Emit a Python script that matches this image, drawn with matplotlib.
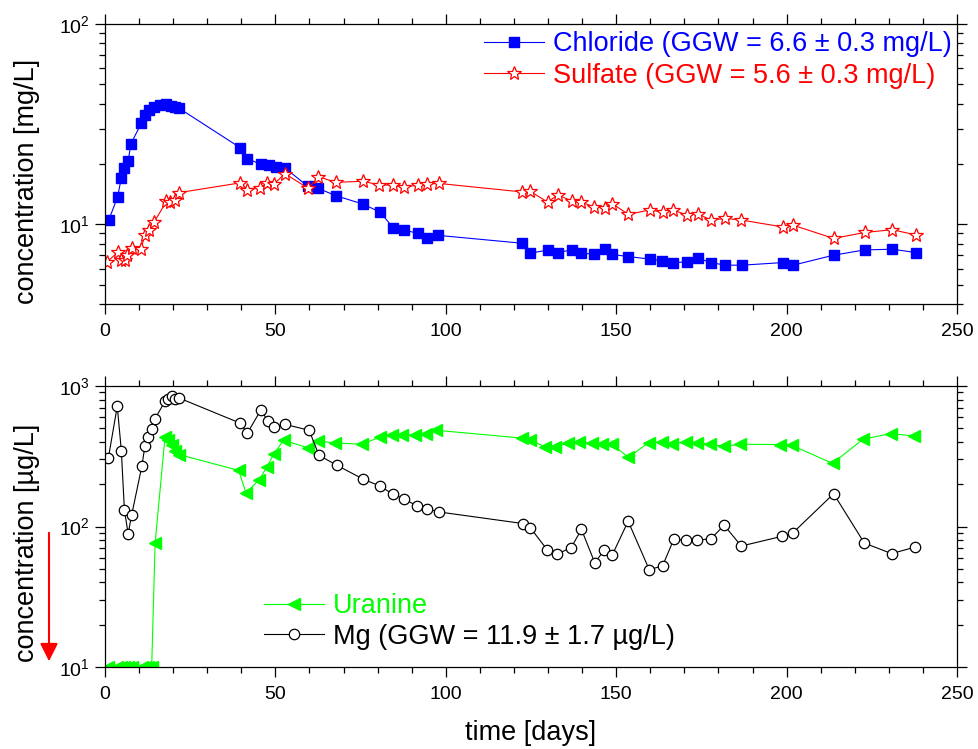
import numpy as np
import matplotlib
matplotlib.use('Agg')
import matplotlib.pyplot as plt
from matplotlib.ticker import LogLocator, NullFormatter, MultipleLocator

plt.rcParams['font.family'] = ['Liberation Sans', 'DejaVu Sans']
plt.rcParams['mathtext.fontset'] = 'custom'
plt.rcParams['mathtext.rm'] = 'Liberation Sans'

# ---- top panel: chloride / sulfate [mg/L]
cl_days = [1.1, 3.7, 4.8, 5.6, 6.8, 7.6, 10.7, 11.7, 13.0, 14.4, 16.1, 17.8, 19.3, 20.6, 21.8,
           39.7, 41.7, 45.8, 48.0, 50.1, 52.8, 59.5, 62.6, 67.7, 75.8, 80.7, 84.6, 87.6, 91.7,
           94.6, 97.6, 122.5, 124.8, 129.9, 132.8, 137.0, 139.7, 143.6, 146.8, 148.8, 153.6,
           160.0, 163.5, 166.8, 170.8, 173.9, 177.8, 182.0, 186.9, 198.9, 201.9, 213.8, 222.9,
           231.0, 237.9]
chloride = [10.5, 13.7, 17.1, 19.1, 20.7, 25.2, 32.1, 35.2, 37.1, 38.5, 39.5, 40.0, 39.1, 38.5, 37.9,
            24.1, 21.3, 19.9, 19.7, 19.4, 19.1, 15.5, 15.1, 13.9, 12.6, 11.5, 9.6, 9.37, 9.02,
            8.59, 8.81, 8.04, 7.18, 7.43, 7.23, 7.45, 7.18, 7.09, 7.51, 7.07, 6.9,
            6.7, 6.57, 6.44, 6.49, 6.78, 6.44, 6.25, 6.25, 6.44, 6.25, 7.01, 7.45,
            7.51, 7.23]

so4_days = [0.7, 3.9, 4.6, 5.9, 6.6, 7.8, 10.5, 11.7, 12.8, 14.5, 18.0, 19.2, 20.6, 21.8,
            39.7, 41.8, 45.6, 47.5, 49.6, 52.8, 59.7, 62.6, 67.7, 75.8, 80.5, 84.6, 87.6, 91.7,
            94.6, 97.9, 122.5, 124.8, 129.9, 132.8, 137.0, 139.7, 143.6, 146.8, 148.8, 153.6,
            159.8, 163.7, 166.7, 170.8, 173.9, 177.8, 182.0, 186.7, 198.9, 201.9, 213.8, 222.9,
            231.0, 237.9]
sulfate = [6.5, 7.3, 6.6, 6.6, 7.0, 7.6, 7.5, 8.8, 9.4, 10.3, 13.0, 12.9, 13.2, 14.4,
           16.1, 14.9, 15.2, 16.1, 15.9, 17.9, 15.1, 17.3, 16.2, 16.4, 15.7, 15.7, 15.3, 15.7,
           15.9, 16.0, 14.5, 14.6, 12.9, 14.0, 13.1, 12.9, 12.2, 12.1, 12.7, 11.2,
           11.8, 11.5, 11.8, 11.1, 11.3, 10.5, 10.7, 10.5, 9.7, 9.9, 8.5, 9.1,
           9.4, 8.85]

# ---- bottom panel: uranine / Mg [ug/L]
mg_days = [1.0, 3.6, 4.8, 5.7, 6.8, 7.8, 10.8, 11.7, 12.7, 13.7, 14.7, 17.6, 18.6, 19.6, 20.5, 21.7,
           39.6, 41.8, 45.8, 47.7, 49.6, 52.7, 59.9, 62.8, 68.0, 75.8, 80.7, 84.6, 87.6, 91.5,
           94.4, 97.9, 122.6, 124.8, 129.7, 132.6, 136.8, 139.8, 143.7, 146.5, 148.8, 153.5,
           159.7, 163.6, 166.9, 170.6, 173.7, 177.8, 181.7, 186.7, 198.6, 201.8, 213.8, 222.8,
           230.8, 237.8]
mg = [309, 718, 345, 130, 89, 120, 268, 372, 434, 494, 586, 778, 813, 845, 803, 822,
      545, 463, 679, 564, 511, 534, 484, 321, 273, 217, 194, 169, 158, 140,
      134, 127, 105, 98, 68.5, 63.5, 70.8, 95.4, 55.3, 67.8, 62.4, 109,
      49.3, 52.4, 81.1, 79.8, 79.8, 82.0, 102, 72.6, 85.1, 89.9, 171, 76.3,
      64.1, 71.5]

ur_days = [1.0, 3.6, 4.8, 5.7, 6.8, 7.8, 10.8, 11.7, 12.7, 13.7, 14.7, 17.6, 18.6, 19.6, 20.5, 21.7,
           39.2, 41.4, 45.3, 47.5, 49.6, 52.4, 59.7, 62.6, 67.5, 75.4, 80.7, 84.2, 87.1, 91.0,
           94.2, 97.2, 122.3, 124.6, 129.2, 132.1, 136.0, 139.0, 142.9, 145.8, 148.8, 153.6,
           159.5, 163.4, 166.4, 170.6, 173.7, 177.6, 181.5, 186.4, 198.2, 201.6, 213.5, 222.4,
           230.5, 237.5]
uranine = [10, 10, 10, 10, 10, 10, 10, 10, 10, 10, 76, 430, 410, 380, 345, 325,
           251, 173, 216, 265, 330, 411, 362, 406, 393, 385, 433, 446, 446, 446,
           458, 484, 426, 415, 368, 368, 393, 399, 393, 389, 385, 310,
           396, 399, 389, 399, 396, 385, 372, 385, 383, 378, 281, 418,
           458, 441]

W, H = 979, 749
fig = plt.figure(figsize=(W / 100, H / 100), dpi=100)
ax1 = fig.add_axes([105 / W, 1 - 304 / H, 852 / W, 280 / H])
ax2 = fig.add_axes([105 / W, 1 - 667 / H, 852 / W, 281 / H])

lw = 0.8
ax1.plot(cl_days, chloride, '-s', color='#0000ff', lw=lw, ms=7.5, mec='#0000ff',
         label='Chloride (GGW = 6.6 ± 0.3 mg/L)')
ax1.plot(so4_days, sulfate, '-*', color='#ff0000', lw=lw, ms=10.5, mfc='white', mec='#ff0000',
         mew=0.9, label='Sulfate (GGW = 5.6 ± 0.3 mg/L)')

ax2.plot(ur_days, uranine, '-<', color='#00ff00', lw=lw, ms=8.5, mec='#00ff00',
         label='Uranine')
ax2.plot(mg_days, mg, '-o', color='black', lw=lw, ms=7.5, mfc='white', mec='black',
         mew=0.9, label='Mg (GGW = 11.9 ± 1.7 µg/L)')

for ax, lo, hi in [(ax1, 4, 100), (ax2, 10, 1000)]:
    ax.set_yscale('log')
    ax.set_ylim(lo, hi)
    ax.set_xlim(0, 250)
    ax.xaxis.set_major_locator(MultipleLocator(50))
    ax.xaxis.set_minor_locator(MultipleLocator(10))
    ax.yaxis.set_major_locator(LogLocator(base=10))
    ax.yaxis.set_minor_locator(LogLocator(base=10, subs=np.arange(2, 10)))
    ax.yaxis.set_minor_formatter(NullFormatter())
    ax.tick_params(which='both', direction='out', top=True, right=True, labelsize=14,
                   width=0.9)
    ax.tick_params(axis='x', pad=7)
    ax.tick_params(axis='y', pad=4)
    ax.tick_params(which='major', length=7)
    ax.tick_params(which='minor', length=4)
    for s in ax.spines.values():
        s.set_linewidth(0.9)

ax1.set_ylabel('concentration [mg/L]', fontsize=19.5)
ax2.set_ylabel('concentration [µg/L]', fontsize=19.5)
ax1.yaxis.set_label_coords(-0.076, 0.436)
ax2.yaxis.set_label_coords(-0.076, 0.44)
ax2.set_xlabel('time [days]', fontsize=19.5)
ax2.xaxis.set_label_coords(0.5, -0.19)

leg1 = ax1.legend(loc='upper left', bbox_to_anchor=(484 / W, 1 - 31 / H),
                  bbox_transform=fig.transFigure, frameon=False, fontsize=19.5,
                  numpoints=1, handlelength=2.22, handletextpad=0.33,
                  labelspacing=0.22, borderpad=0, borderaxespad=0)
for t, c in zip(leg1.get_texts(), ['#0000ff', '#ff0000']):
    t.set_color(c)

leg2 = ax2.legend(loc='upper left', bbox_to_anchor=(264 / W, 1 - 593 / H),
                  bbox_transform=fig.transFigure, frameon=False, fontsize=19.5,
                  numpoints=1, handlelength=2.22, handletextpad=0.33,
                  labelspacing=0.18, borderpad=0, borderaxespad=0)
for t, c in zip(leg2.get_texts(), ['#00ff00', 'black']):
    t.set_color(c)

# red arrow: uranine below detection limit
ax2.annotate('', xy=(49 / W, 1 - 664 / H), xytext=(49 / W, 1 - 530 / H),
             xycoords='figure fraction', textcoords='figure fraction',
             arrowprops=dict(arrowstyle='-|>', color='red', lw=1.5, mutation_scale=27),
             annotation_clip=False)

fig.savefig('out.png', dpi=100)
